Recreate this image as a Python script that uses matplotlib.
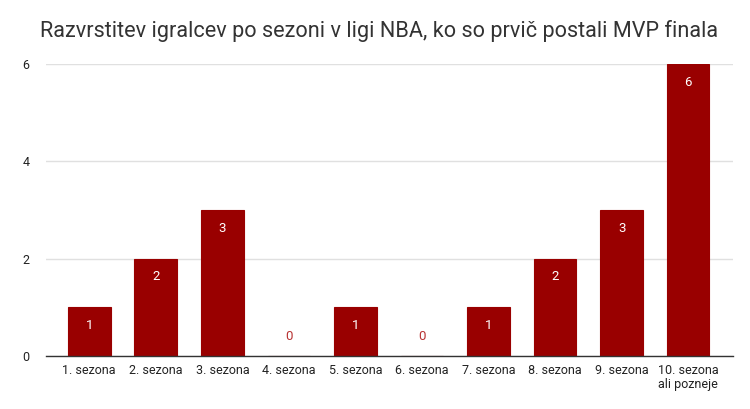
import matplotlib.pyplot as plt

plt.rcParams['font.family'] = ['Roboto', 'DejaVu Sans']

categories = ['1. sezona', '2. sezona', '3. sezona', '4. sezona', '5. sezona',
              '6. sezona', '7. sezona', '8. sezona', '9. sezona', '10. sezona\nali pozneje']
values = [1, 2, 3, 0, 1, 0, 1, 2, 3, 6]

bar_color = '#990000'

fig = plt.figure(figsize=(7.5, 4.09), dpi=100)
ax = fig.add_axes([0.0613, 0.1296, 0.9157, 0.7139])

x = range(len(values))
ax.bar(x, values, width=0.64, color=bar_color, edgecolor=bar_color, linewidth=0.8, zorder=3)

for i, v in enumerate(values):
    if v > 0:
        ax.annotate(str(v), (i, v), xytext=(0, -13), textcoords='offset points',
                    ha='center', va='center', color='white', fontsize=9.5, zorder=4)
    else:
        ax.annotate(str(v), (i, v), xytext=(0, 14), textcoords='offset points',
                    ha='center', va='center', color='#b83333', fontsize=9.5, zorder=4)

ax.set_xlim(-0.65, 9.67)
ax.set_ylim(0, 6)
ax.set_yticks([0, 2, 4, 6])
ax.set_xticks(list(x))
ax.set_xticklabels(categories, fontsize=9, color='#222222', linespacing=1.1)
ax.tick_params(axis='y', labelsize=9, colors='#222222', length=0, pad=12)
ax.tick_params(axis='x', length=0, pad=6)
ax.grid(axis='y', color='#e0e0e0', linewidth=1, zorder=0)
for side in ['top', 'right', 'left']:
    ax.spines[side].set_visible(False)
ax.spines['bottom'].set_color('#333333')
ax.spines['bottom'].set_linewidth(1)
ax.spines['bottom'].set_zorder(5)

fig.text(0.506, 0.925, 'Razvrstitev igralcev po sezoni v ligi NBA, ko so prvič postali MVP finala',
         ha='center', va='center', fontsize=15.6, color='#333333')

fig.savefig('out.png', dpi=100)
